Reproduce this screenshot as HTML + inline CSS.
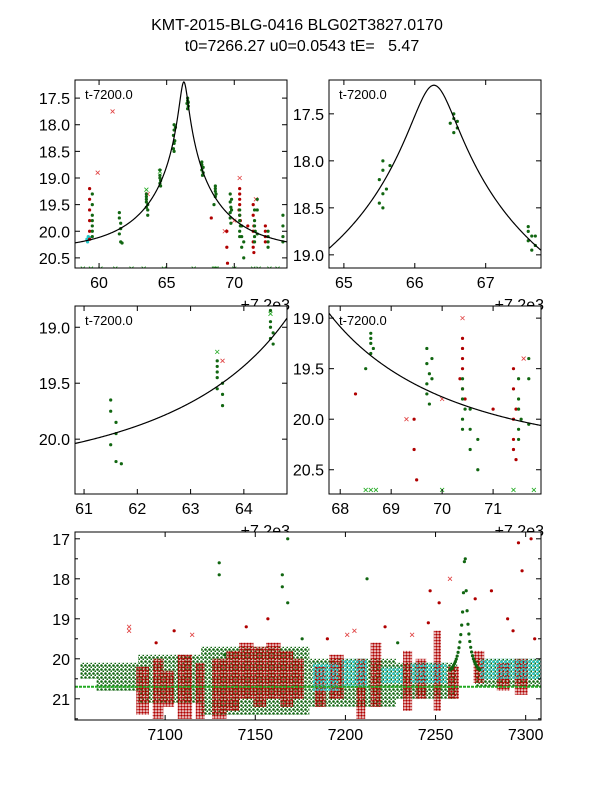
<!DOCTYPE html>
<html><head><meta charset="utf-8"><style>
html,body{margin:0;padding:0;background:#fff}
svg{display:block;font-family:"Liberation Sans",sans-serif}
</style></head><body>
<svg id="fig" width="600" height="800" viewBox="0 0 600 800">
<defs>
<pattern id="pg" width="4" height="4" patternUnits="userSpaceOnUse"><circle cx="1.5" cy="1.5" r="1.3" fill="#116611"/><circle cx="3.5" cy="3.5" r="1.1" fill="#116611"/></pattern>
<pattern id="pr" width="3" height="3" patternUnits="userSpaceOnUse"><circle cx="1.5" cy="1.5" r="1.3" fill="#b00000"/></pattern>
<pattern id="pc" width="4" height="4" patternUnits="userSpaceOnUse"><circle cx="1.5" cy="2" r="1.3" fill="#22c8c8"/><circle cx="3.5" cy="0" r="1.1" fill="#22c8c8"/></pattern>
</defs>
<text x="297" y="30" text-anchor="middle" font-size="16">KMT-2015-BLG-0416 BLG02T3827.0170</text>
<text x="302" y="51" text-anchor="middle" font-size="16" style="white-space:pre" xml:space="preserve">t0=7266.27 u0=0.0543 tE=   5.47</text>
</svg>
<script>
// model parameters
const t0 = [7266.27];
const u0 = [0.0543];
const tE = [5.47];
const mBase = [20.36];
// zoom-panel photometry (t - 7200, mag)
const gT = [59.5,59.5,59.5,59.5,59.5,59.5,59.5,61.5,61.5,61.6,61.6,61.5,61.6,61.7,63.5,63.5,63.5,63.5,63.6,63.6,63.5,63.6,64.5,64.5,64.5,64.55,64.5,64.55,65.55,65.55,65.5,65.55,65.5,65.55,65.6,65.65,66.55,66.55,66.5,66.6,66.55,66.6,67.6,67.6,67.65,67.6,67.7,67.65,67.7,68.6,68.6,68.6,68.65,68.6,68.5,69.7,69.7,69.75,69.7,69.7,69.75,69.8,69.8,70.4,70.4,70.4,70.45,70.4,70.4,70.55,70.55,70.55,70.7,70.7,71.5,71.5,71.5,71.55,71.5,71.5,71.7,71.7,71.7,72.5,72.5,72.5,72.5,73.6,73.6,73.6,73.6];
const gM = [19.3,19.5,19.7,19.8,19.9,20.0,20.1,19.65,19.75,19.85,19.95,20.05,20.2,20.22,19.3,19.4,19.45,19.55,19.6,19.7,19.35,19.5,18.85,18.95,19.0,19.05,19.1,19.15,18.0,18.1,18.2,18.35,18.45,18.5,18.3,18.05,17.5,17.55,17.6,17.65,17.7,17.58,18.7,18.75,18.8,18.85,18.9,18.95,18.8,19.15,19.2,19.25,19.3,19.35,19.5,19.3,19.45,19.55,19.65,19.75,19.85,19.6,19.4,19.6,19.7,19.8,19.9,20.0,20.1,19.9,20.1,20.3,20.5,20.2,19.6,19.8,19.9,20.0,20.1,20.2,20.05,19.4,19.6,20.0,20.1,20.2,20.3,19.7,19.9,20.1,20.2];
const rT = [59.3,59.3,59.3,59.3,59.3,59.3,69.45,69.45,69.5,70.4,70.4,70.4,70.35,70.4,70.45,70.4,71.4,71.4,71.45,71.4,71.4,71.4,71.45,72.3,72.3,72.3,72.3,71.0,68.3];
const rM = [19.2,19.4,19.6,19.8,20.0,20.15,20.0,20.3,20.6,19.3,19.4,19.5,19.6,19.7,19.8,19.2,19.5,19.7,19.9,20.0,20.2,20.3,20.4,19.9,20.0,20.1,20.2,19.9,19.75];
const cT = [59.1,59.15,59.2,59.3];
const cM = [20.15,20.2,20.1,20.12];
const rxT = [61.0,59.9,70.4,71.6,69.3,63.6,70.0];
const rxM = [17.75,18.9,19.0,19.4,20.0,19.3,19.8];
const gxT = [58.8,59.4,60.1,61.2,62.4,63.3,64.8,67.0,68.5,68.6,68.7,70.0,71.4,71.8,72.6,73.2,64.5,63.5];
const gxM = [20.7,20.7,20.7,20.7,20.7,20.7,20.7,20.7,20.7,20.7,20.7,20.7,20.7,20.7,20.7,20.7,18.88,19.22];
// full-season bands: start, end, brightest mag, faintest mag
const greenBandT0 = [7053,7062,7085,7120,7180,7228,7272];
const greenBandT1 = [7062,7085,7120,7180,7228,7262,7309];
const greenBandTop = [20.1,20.1,19.9,19.7,20.0,20.1,20.0];
const greenBandBot = [20.5,20.8,21.1,21.4,21.2,21.0,20.7];
const redBandT0 = [7084,7093,7099,7107,7117,7126,7134,7141,7149,7156,7164,7171,7183,7191,7206,7214,7232,7239,7249,7257,7271,7284,7294];
const redBandT1 = [7091,7099,7105,7115,7122,7134,7141,7149,7156,7164,7171,7177,7189,7199,7211,7220,7237,7245,7253,7263,7277,7291,7301];
const redBandTop = [20.2,20.0,20.3,19.9,20.1,20.0,19.8,19.6,19.7,19.6,19.8,20.0,20.2,19.9,20.0,19.6,19.8,20.0,19.3,20.2,19.8,20.1,20.0];
const redBandBot = [21.4,21.5,21.2,21.5,21.5,21.5,21.3,21.0,21.2,21.0,21.2,21.0,21.2,21.0,21.5,21.2,21.3,21.0,21.3,21.0,20.6,20.8,20.9];
const cyanBandT0 = [7182,7198,7220,7236,7275];
const cyanBandT1 = [7196,7212,7232,7256,7309];
const cyanBandTop = [20.1,20.0,20.2,20.1,20.0];
const cyanBandBot = [20.8,20.7,20.6,20.6,20.5];
const outT = [7080,7080,7105,7130,7130,7157,7165,7165,7168,7168,7205,7212,7222,7246,7247,7258,7272,7290,7296,7298,7303,7305,7237,7190,7145,7095,7115,7133,7176,7201,7229,7252,7281,7293];
const outM = [19.3,19.2,19.3,17.6,17.9,19.0,18.2,17.9,17.0,18.6,19.3,18.0,19.2,19.1,18.3,18.0,18.5,19.0,17.1,17.8,17.0,19.5,19.4,19.5,19.2,19.6,19.4,19.9,19.5,19.4,19.6,18.6,18.3,19.3];
const outC = ['rx','rx','r','g','g','r','g','g','g','g','rx','g','r','r','r','rx','r','r','r','r','r','r','rx','r','r','r','rx','g','g','rx','g','r','r','r'];

const NS='http://www.w3.org/2000/svg';
const svg=document.getElementById('fig');
function mk(tag,attrs,parent){const e=document.createElementNS(NS,tag);for(const k in attrs)e.setAttribute(k,attrs[k]);(parent||svg).appendChild(e);return e;}
function model(t){const u=Math.sqrt(u0[0]*u0[0]+Math.pow((t-t0[0])/tE[0],2));const A=(u*u+2)/(u*Math.sqrt(u*u+4));return mBase[0]-2.5*Math.log10(A);}
let clipId=0;
function panel(name,px,py,pw,ph,x0,x1,y0,y1,xt,yt,xf,yf,off,minorY){
  const g=mk('g',{});
  
  
  const sx=v=>px+(v-x0)/(x1-x0)*pw, sy=v=>py+(v-y0)/(y1-y0)*ph;
  mk('rect',{x:px,y:py,width:pw,height:ph,fill:'#fff'},g);
  const cid='c'+(clipId++);
  const cp=mk('clipPath',{id:cid},g);mk('rect',{x:px,y:py,width:pw,height:ph},cp);
  const d=mk('g',{'clip-path':'url(#'+cid+')'},g);
  return {g,d,sx,sy,finish:()=>{
    const tl=5;
    xt.forEach(v=>{const x=sx(v);
      mk('line',{x1:x,x2:x,y1:py+ph,y2:py+ph-tl,stroke:'#000'},g);
      mk('line',{x1:x,x2:x,y1:py,y2:py+tl,stroke:'#000'},g);
      const lb=mk('text',{x:x,y:py+ph+20,'text-anchor':'middle','font-size':16},g);lb.textContent=xf(v);
      
      });
    yt.forEach(v=>{const y=sy(v);
      mk('line',{x1:px,x2:px+tl,y1:y,y2:y,stroke:'#000'},g);
      mk('line',{x1:px+pw,x2:px+pw-tl,y1:y,y2:y,stroke:'#000'},g);
      const lb=mk('text',{x:px-5,y:y+6,'text-anchor':'end','font-size':16},g);lb.textContent=yf(v);
      
      });
    (minorY||[]).forEach(v=>{const y=sy(v);
      mk('line',{x1:px,x2:px+3,y1:y,y2:y,stroke:'#000'},g);
      mk('line',{x1:px+pw,x2:px+pw-3,y1:y,y2:y,stroke:'#000'},g);});
    mk('rect',{x:px,y:py,width:pw,height:ph,fill:'none',stroke:'#000','stroke-width':1},g);
    if(off){const o=mk('text',{x:px+pw+3,y:py+ph+42,'text-anchor':'end','font-size':16},svg);o.textContent='+7.2e3';
      
      }
  }};
}
function dot(p,t,m,col){const c=mk('circle',{cx:p.sx(t),cy:p.sy(m),r:1.6,fill:col},p.d);
  
  }
function cross(p,t,m,col){const x=p.sx(t),y=p.sy(m),s=2;
  const e=mk('path',{d:`M${x-s},${y-s}L${x+s},${y+s}M${x-s},${y+s}L${x+s},${y-s}`,stroke:col,'stroke-width':0.8},p.d);
  
  }
function curve(p,x0,x1){let s='';const n=400;for(let i=0;i<=n;i++){const t=x0+(x1-x0)*i/n;s+=(i?'L':'M')+p.sx(t-7200).toFixed(2)+','+p.sy(model(t)).toFixed(2);}
  const e=mk('path',{d:s,fill:'none',stroke:'#000','stroke-width':1.2},p.d);
  
  }
const G='#116611',R='#b00000',C='#22c8c8',RX='#e04040',GX='#22aa22';
function zoomPanel(name,px,py,x0,x1,y0,y1,xt,yt,yf){
  const p=panel(name,px,py,212,188,x0,x1,y0,y1,xt,yt,v=>String(v),yf,true);
  for(let i=0;i<gxT.length;i++)cross(p,gxT[i],gxM[i],GX);
  for(let i=0;i<rxT.length;i++)cross(p,rxT[i],rxM[i],RX);
  for(let i=0;i<cT.length;i++)dot(p,cT[i],cM[i],C);
  for(let i=0;i<rT.length;i++)dot(p,rT[i],rM[i],R);
  for(let i=0;i<gT.length;i++)dot(p,gT[i],gM[i],G);
  curve(p,7200+x0,7200+x1);
  const lb=mk('text',{x:px+10,y:py+19,'font-size':13},p.g);lb.textContent='t-7200.0';
  
  
  p.finish();
}
const f1=v=>v.toFixed(1);
zoomPanel('panel-overview-zoom',75,80,58.22,73.9,17.16,20.69,[60,65,70],[17.5,18,18.5,19,19.5,20,20.5],f1);
zoomPanel('panel-peak-zoom',329,80,64.79,67.78,17.14,19.14,[65,66,67],[17.5,18,18.5,19],f1);
zoomPanel('panel-rising-zoom',75,306,60.83,64.81,18.81,20.49,[61,62,63,64],[19,19.5,20],f1);
zoomPanel('panel-falling-zoom',329,306,67.78,71.94,18.88,20.74,[68,69,70,71],[19,19.5,20,20.5],f1);
// full season panel
const P=panel('panel-full-season',75,532,466,188,7050,7308.5,16.83,21.53,[7100,7150,7200,7250,7300],[17,18,19,20,21],v=>String(v),v=>String(v),false,[17.5,18.5,19.5,20.5,21.5]);
function band(T0,T1,Top,Bot,fill,nm){for(let i=0;i<T0.length;i++){
  const x=P.sx(T0[i]),w=P.sx(T1[i])-x,y=P.sy(Top[i]),h=P.sy(Bot[i])-y;
  const r=mk('rect',{x:x,y:y,width:w,height:h,fill:fill},P.d);
  
  }}
band(greenBandT0,greenBandT1,greenBandTop,greenBandBot,'url(#pg)','green-data-band');
band(redBandT0,redBandT1,redBandTop,redBandBot,'url(#pr)','red-data-band');
band(cyanBandT0,cyanBandT1,cyanBandTop,cyanBandBot,'url(#pc)','cyan-data-band');
const lim=mk('line',{x1:P.sx(7050),x2:P.sx(7308.5),y1:P.sy(20.7),y2:P.sy(20.7),stroke:GX,'stroke-width':2,'stroke-dasharray':'3,1'},P.d);


for(let i=0;i<outT.length;i++){const c=outC[i];if(c==='rx')cross(P,outT[i],outM[i],RX);else dot(P,outT[i],outM[i],c==='g'?G:R);}
for(let k=7258;k<7275;k+=0.5)dot(P,k,model(k)+0.05,G);
curve(P,7050,7308.5);
P.finish();
</script>
</body></html>
